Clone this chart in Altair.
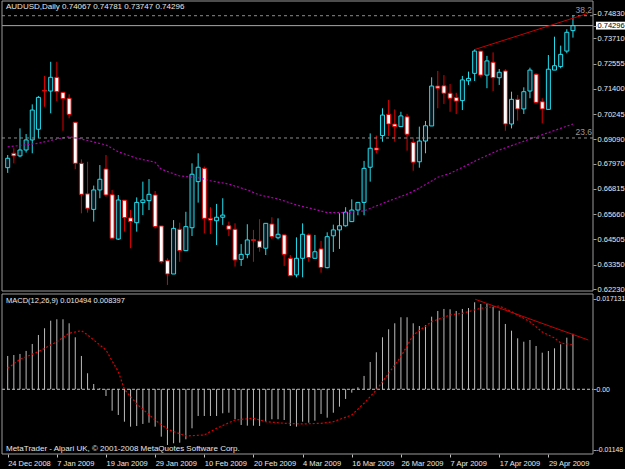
import altair as alt
import pandas as pd

# ---------------- data ----------------
opens = [0.6779, 0.6845, 0.6833, 0.6860, 0.6906, 0.6955, 0.7133, 0.7130, 0.7193, 0.7124,
         0.7097, 0.6987, 0.6799, 0.6659, 0.6588, 0.6677, 0.6773, 0.6655, 0.6452, 0.6630,
         0.6549, 0.6527, 0.6619, 0.6628, 0.6654, 0.6512, 0.6353, 0.6292, 0.6497, 0.6399,
         0.6504, 0.6715, 0.6776, 0.6547, 0.6536, 0.6552, 0.6513, 0.6497, 0.6359, 0.6382,
         0.6449, 0.6443, 0.6410, 0.6521, 0.6458, 0.6471, 0.6364, 0.6288, 0.6364, 0.6471,
         0.6364, 0.6407, 0.6321, 0.6467, 0.6494, 0.6513, 0.6532, 0.6585, 0.6620, 0.6781,
         0.6869, 0.6926, 0.7023, 0.6979, 0.6967, 0.7012, 0.6895, 0.6806, 0.6901, 0.6970,
         0.7153, 0.7154, 0.7120, 0.7100, 0.7086, 0.7177, 0.7211, 0.7313, 0.7203, 0.7262,
         0.7191, 0.7222, 0.6979, 0.7092, 0.7048, 0.7130, 0.7207, 0.7081, 0.7046, 0.7226,
         0.7242, 0.7313, 0.74067]
highs = [0.6837, 0.6868, 0.6959, 0.6933, 0.7069, 0.7107, 0.7199, 0.7264, 0.7264, 0.7124,
         0.7115, 0.6987, 0.6817, 0.6806, 0.6697, 0.6791, 0.6837, 0.6677, 0.6654, 0.6630,
         0.6585, 0.6643, 0.6715, 0.6727, 0.6672, 0.6512, 0.6364, 0.6539, 0.6527, 0.6577,
         0.6799, 0.6845, 0.6784, 0.6598, 0.6613, 0.6639, 0.6532, 0.6524, 0.6429, 0.6520,
         0.6494, 0.6543, 0.6524, 0.6552, 0.6547, 0.6471, 0.6379, 0.6460, 0.6524, 0.6478,
         0.6471, 0.6444, 0.6483, 0.6518, 0.6570, 0.6598, 0.6634, 0.6620, 0.6810, 0.6936,
         0.6926, 0.7051, 0.7089, 0.7046, 0.7035, 0.7025, 0.6918, 0.6967, 0.6993, 0.7193,
         0.7222, 0.7203, 0.7162, 0.7122, 0.7199, 0.7219, 0.7321, 0.7313, 0.7291, 0.7307,
         0.7231, 0.7230, 0.7127, 0.7112, 0.7147, 0.7237, 0.7211, 0.7097, 0.7295, 0.7379,
         0.7338, 0.7413, 0.74781]
lows = [0.6755, 0.6799, 0.6827, 0.6848, 0.6845, 0.6914, 0.7058, 0.7028, 0.7084, 0.6948,
        0.7005, 0.6772, 0.6570, 0.6573, 0.6532, 0.6639, 0.6646, 0.6456, 0.6448, 0.6486,
        0.6410, 0.6486, 0.6562, 0.6585, 0.6501, 0.6341, 0.6242, 0.6292, 0.6348, 0.6399,
        0.6466, 0.6619, 0.6478, 0.6475, 0.6425, 0.6517, 0.6466, 0.6326, 0.6329, 0.6364,
        0.6348, 0.6394, 0.6379, 0.6451, 0.6451, 0.6329, 0.6284, 0.6277, 0.6277, 0.6348,
        0.6364, 0.6298, 0.6318, 0.6393, 0.6407, 0.6509, 0.6532, 0.6561, 0.6561, 0.6715,
        0.6845, 0.6898, 0.6924, 0.6898, 0.6967, 0.6857, 0.6765, 0.6779, 0.6845, 0.6970,
        0.7051, 0.7071, 0.7035, 0.7025, 0.7043, 0.7158, 0.7176, 0.7193, 0.7143, 0.7130,
        0.7158, 0.6948, 0.6959, 0.6994, 0.7025, 0.7097, 0.7074, 0.6982, 0.7046, 0.7226,
        0.7234, 0.7303, 0.73747]
closes = [0.6822, 0.6833, 0.6860, 0.6906, 0.7043, 0.7101, 0.7130, 0.7193, 0.7127, 0.7095,
          0.7023, 0.6799, 0.6657, 0.6593, 0.6677, 0.6726, 0.6654, 0.6456, 0.6631, 0.6550,
          0.6532, 0.6620, 0.6631, 0.6657, 0.6509, 0.6348, 0.6292, 0.6501, 0.6399, 0.6509,
          0.6749, 0.6781, 0.6547, 0.6539, 0.6552, 0.6562, 0.6497, 0.6356, 0.6382, 0.6448,
          0.6446, 0.6414, 0.6524, 0.6463, 0.6474, 0.6382, 0.6284, 0.6364, 0.6474, 0.6367,
          0.6394, 0.6322, 0.6463, 0.6494, 0.6513, 0.6575, 0.6585, 0.6620, 0.6776, 0.6868,
          0.6860, 0.7020, 0.6979, 0.6967, 0.7016, 0.6932, 0.6804, 0.6901, 0.6971, 0.7153,
          0.7143, 0.7120, 0.7097, 0.7084, 0.7181, 0.7188, 0.7313, 0.7203, 0.7268, 0.7191,
          0.7216, 0.6979, 0.7092, 0.7048, 0.7127, 0.7226, 0.7078, 0.7048, 0.7230, 0.7246,
          0.7298, 0.7399, 0.74296]

macd_hist = [0.00630, 0.00648, 0.00668, 0.00725, 0.00857, 0.01027, 0.01154, 0.01297, 0.01324, 0.01324,
             0.01248, 0.00983, 0.00630, 0.00303, 0.00100, 0.00020, -0.00127, -0.00405, -0.00486, -0.00613,
             -0.00707, -0.00694, -0.00656, -0.00632, -0.00707, -0.00896, -0.01053, -0.01021, -0.01010, -0.00946,
             -0.00738, -0.00505, -0.00505, -0.00505, -0.00505, -0.00454, -0.00443, -0.00567, -0.00675, -0.00688,
             -0.00688, -0.00694, -0.00613, -0.00567, -0.00567, -0.00581, -0.00694, -0.00707, -0.00613, -0.00632,
             -0.00594, -0.00467, -0.00537, -0.00443, -0.00329, -0.00183, -0.00064, 0.00038, 0.00252, 0.00516,
             0.00700, 0.00983, 0.01135, 0.01248, 0.01362, 0.01362, 0.01248, 0.01197, 0.01216, 0.01373,
             0.01481, 0.01519, 0.01513, 0.01481, 0.01519, 0.01537, 0.01645, 0.01613, 0.01613, 0.01562,
             0.01486, 0.01235, 0.01108, 0.00964, 0.00900, 0.00932, 0.00819, 0.00692, 0.00724, 0.00775,
             0.00851, 0.00976, 0.010494]

signal_idx = [0, 2, 5, 8, 10, 12, 13, 16, 18, 19, 21, 24, 26, 29, 32, 34, 37, 40, 42, 45,
              48, 51, 53, 56, 58, 60, 62, 64, 66, 69, 72, 74, 77, 80, 82, 85, 87, 89, 90, 91, 92]
signal_vals = [0.00397, 0.00567, 0.00711, 0.00900, 0.01059, 0.01108, 0.01027, 0.00743, 0.00333, 0.0,
               -0.00278, -0.00581, -0.00756, -0.00883, -0.00864, -0.00738, -0.00581, -0.00548, -0.00613, -0.00643,
               -0.00656, -0.00643, -0.00613, -0.00486, -0.00265, -0.00013, 0.00303, 0.00616, 0.01027, 0.01278,
               0.01405, 0.01437, 0.01532, 0.01575, 0.01467, 0.01278, 0.01084, 0.00970, 0.00876, 0.00857, 0.008397]

ma_idx = [0, 5, 8, 10, 12, 16, 18, 21, 24, 25, 28, 31, 33, 36, 39, 41, 44, 47, 50, 52,
          55, 58, 60, 62, 65, 67, 70, 72, 77, 80, 86, 92]
ma_vals = [0.6874, 0.6891, 0.6910, 0.6921, 0.6910, 0.6883, 0.6852, 0.6822, 0.6804, 0.6772,
           0.6741, 0.6733, 0.6719, 0.6704, 0.6677, 0.6654, 0.6636, 0.6608, 0.6588, 0.6573,
           0.6573, 0.6581, 0.6604, 0.6626, 0.6658, 0.6685, 0.6735, 0.6753, 0.6822, 0.6860,
           0.6920, 0.6979]

fib_levels = [0.7475, 0.6915]
fib_labels = ["38.2", "23.6"]
last_price = 0.74296

trend_price_idx = [76, 94.5]
trend_price_vals = [0.7320, 0.7486]
trend_macd_idx = [76.1, 94.5]
trend_macd_vals = [0.01702, 0.00932]

date_ticks = [0, 8, 16, 24, 32, 40, 48, 56, 64, 72, 80, 88]
date_labels = ["24 Dec 2008", "7 Jan 2009", "19 Jan 2009", "29 Jan 2009", "10 Feb 2009",
               "20 Feb 2009", "4 Mar 2009", "16 Mar 2009", "26 Mar 2009", "7 Apr 2009",
               "17 Apr 2009", "29 Apr 2009"]
price_ticks = [0.74830, 0.74296, 0.73710, 0.72555, 0.71400, 0.70245, 0.69090, 0.67970,
               0.66815, 0.65660, 0.64505, 0.63350, 0.62230]
macd_ticks = [0.017131, 0.0, -0.01148]
macd_tick_labels = ["0.017131", "0.00", "-0.01148"]

header_text = "AUDUSD,Daily  0.74067 0.74781 0.73747 0.74296"
macd_text = "MACD(12,26,9) 0.010494 0.008397"
copyright_text = "MetaTrader - Alpari UK, \u00a9 2001-2008 MetaQuotes Software Corp."

# ---------------- styling / layout ----------------
FONT = "Liberation Sans"
TXT = "#e8e8e8"
CYAN = "#22dfee"
RED = "#e00000"
BULL_FILL = "#08161f"
FRAME = "#9a9a9a"
W = 591          # plot width (image x 2..593)
H = 453          # plot height (image y 1..454)
MAIN_H = 290     # price panel: 0..290
MACD_TOP = 293   # macd panel: 293..453

df = pd.DataFrame({"i": list(range(len(opens))), "open": opens, "high": highs,
                   "low": lows, "close": closes, "macd": macd_hist})
df["dir"] = ["bull" if c > o else "bear" for o, c in zip(opens, closes)]
df["zero"] = 0.0

x_scale = alt.Scale(domain=[-0.112, 94.448], nice=False, zero=False)
y_main = alt.Scale(domain=[0.62142, 0.75424], range=[MAIN_H, 0], nice=False, zero=False)
y_macd = alt.Scale(domain=[-0.01224, 0.01802], range=[H, MACD_TOP], nice=False, zero=False)

dir_stroke = alt.Scale(domain=["bull", "bear"], range=[CYAN, RED])
dir_fill = alt.Scale(domain=["bull", "bear"], range=[BULL_FILL, "#ffffff"])

price_axis = alt.Axis(
    orient="right", values=price_ticks, format=".5f", title=None, grid=False, domain=False,
    tickSize=3, tickColor="#a0a0a0", labelPadding=1, labelFont=FONT, labelFontSize=7.5,
    labelColor={"expr": "abs(datum.value - %r) < 1e-7 ? 'black' : '%s'" % (last_price, TXT)},
    labelOverlap=False, labelFlush=False, zindex=1,
)
date_axis = alt.Axis(
    values=date_ticks, title=None, grid=False, domain=False, tickSize=3, tickColor="#c0c0c0",
    labelAlign="left", labelPadding=2, labelFont=FONT, labelFontSize=7.5, labelColor=TXT,
    labelOverlap=False, labelFlush=False,
    labelExpr="%r[indexof(%r, datum.value)]" % (date_labels, date_ticks),
)
macd_axis = alt.Axis(
    orient="right", values=macd_ticks, title=None, grid=False, domain=False, tickSize=3,
    tickColor="#a0a0a0", labelPadding=0, labelFont=FONT, labelFontSize=6.9, labelColor=TXT,
    labelOverlap=False, labelFlush=False,
    labelExpr="%r[indexof(%r, datum.value)]" % (macd_tick_labels, macd_ticks),
)


def X(field):
    return alt.X(field, scale=x_scale, axis=date_axis)


def YP(field):
    return alt.Y(field, scale=y_main, axis=price_axis)


def YM(field):
    return alt.Y(field, scale=y_macd, axis=macd_axis)


one = pd.DataFrame({"a": [0]})

# ---------------- price panel ----------------
wicks = alt.Chart(df).mark_rule(strokeWidth=1, clip=True).encode(
    x=X("i:Q"), y=YP("low:Q"), y2="high:Q",
    color=alt.Color("dir:N", scale=dir_stroke, legend=None),
)
bodies = alt.Chart(df).mark_bar(size=4, strokeWidth=1, clip=True).encode(
    x=X("i:Q"), y=YP("open:Q"), y2="close:Q",
    fill=alt.Fill("dir:N", scale=dir_fill, legend=None),
    stroke=alt.Stroke("dir:N", scale=dir_stroke, legend=None),
)

ma_df = pd.DataFrame({"i": ma_idx, "v": ma_vals})
ma_line = alt.Chart(ma_df).mark_line(color="#b400b4", strokeWidth=1.2, strokeDash=[2, 2], clip=True).encode(
    x=X("i:Q"), y=YP("v:Q"))

fib_df = pd.DataFrame({"level": fib_levels, "label": fib_labels})
fib_rules = alt.Chart(fib_df).mark_rule(color="#8c8c8c", strokeDash=[3, 3], strokeWidth=1).encode(
    x=alt.value(0), x2=alt.value(W), y=YP("level:Q"))
fib_text = alt.Chart(fib_df).mark_text(align="right", baseline="bottom", dy=-1, font=FONT,
                                       fontSize=8.5, color="#9a9a9a").encode(
    y=YP("level:Q"), x=alt.value(W - 1), text="label:N")

last_df = pd.DataFrame({"p": [last_price], "top": [last_price + 0.0018], "bot": [last_price - 0.0018]})
last_rule = alt.Chart(last_df).mark_rule(color="#a8a8a8", strokeWidth=1).encode(
    x=alt.value(0), x2=alt.value(W), y=YP("p:Q"))
last_box = alt.Chart(last_df).mark_rect(color="white").encode(
    y=YP("top:Q"), y2="bot:Q", x=alt.value(W + 3), x2=alt.value(W + 33))

tl1 = alt.Chart(pd.DataFrame({"i": trend_price_idx, "v": trend_price_vals})).mark_line(
    color="#c80000", strokeWidth=1, clip=True).encode(x=X("i:Q"), y=YP("v:Q"))

frame_main = alt.Chart(one).mark_rect(fillOpacity=0, stroke=FRAME, strokeWidth=1).encode(
    x=alt.value(0), x2=alt.value(W), y=alt.value(0), y2=alt.value(MAIN_H))
header = alt.Chart(pd.DataFrame({"t": [header_text]})).mark_text(
    align="left", baseline="middle", font=FONT, fontSize=8, color=TXT).encode(
    x=alt.value(4), y=alt.value(6), text="t:N")

main = alt.layer(wicks, last_box, bodies, ma_line, fib_rules, fib_text, last_rule, tl1, frame_main, header)

# ---------------- MACD panel ----------------
hist = alt.Chart(df).mark_rule(color="#bcbcbc", strokeWidth=1).encode(
    x=X("i:Q"), y=YM("macd:Q"), y2="zero:Q")
zero_line = alt.Chart(pd.DataFrame({"z": [0.0]})).mark_rule(color="#c8c8c8", strokeDash=[3, 2]).encode(
    x=alt.value(0), x2=alt.value(W), y=YM("z:Q"))
sig = alt.Chart(pd.DataFrame({"i": signal_idx, "v": signal_vals})).mark_line(
    color="#e00000", strokeWidth=1.2, strokeDash=[2, 2], clip=True).encode(
    x=X("i:Q"), y=YM("v:Q"))
tl2 = alt.Chart(pd.DataFrame({"i": trend_macd_idx, "v": trend_macd_vals})).mark_line(
    color="#c80000", strokeWidth=1, clip=True).encode(
    x=X("i:Q"), y=YM("v:Q"))
frame_macd = alt.Chart(one).mark_rect(fillOpacity=0, stroke=FRAME, strokeWidth=1).encode(
    x=alt.value(0), x2=alt.value(W), y=alt.value(MACD_TOP), y2=alt.value(H))
macd_title = alt.Chart(pd.DataFrame({"t": [macd_text]})).mark_text(
    align="left", baseline="middle", font=FONT, fontSize=7.5, color=TXT).encode(
    x=alt.value(4), y=alt.value(MACD_TOP + 7), text="t:N")
copy_txt = alt.Chart(pd.DataFrame({"t": [copyright_text]})).mark_text(
    align="left", baseline="middle", font=FONT, fontSize=8, color=TXT).encode(
    x=alt.value(4), y=alt.value(H - 5), text="t:N")

macd = alt.layer(hist, zero_line, sig, tl2, frame_macd, macd_title, copy_txt)

chart = alt.layer(main, macd).resolve_scale(y="independent").properties(
    width=W, height=H,
    background="black",
    autosize=alt.AutoSizeParams(type="none"),
    padding={"left": 2, "top": 1, "right": 32, "bottom": 15},
).configure_view(strokeWidth=0)

chart.save("out.html", embed_options={"renderer": "svg", "actions": False})
